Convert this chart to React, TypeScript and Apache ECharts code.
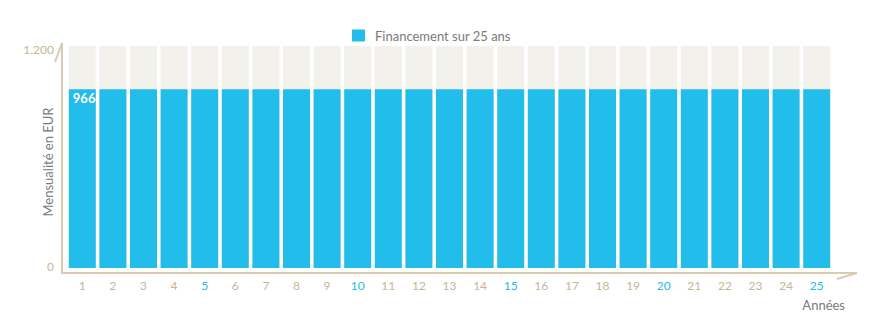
import React, { useEffect, useRef } from "react";
import * as echarts from "echarts";

const years: string[] = Array.from({ length: 25 }, (_, i) => String(i + 1));
const payments: number[] = [966, 966, 966, 966, 966, 966, 966, 966, 966, 966, 966, 966, 966, 966, 966, 966, 966, 966, 966, 966, 966, 966, 966, 966, 966];
const highlightYears: string[] = ["5", "10", "15", "20", "25"];
const seriesName = "Financement sur 25 ans";
const yMax = 1200;

const BLUE = "#22bdea";
const TAN = "#c8b693";
const AXIS = "#d8cbb3";
const GRAY = "#7a7a7a";
const FONT = "Lato, 'Open Sans', sans-serif";

export default function App() {
  const ref = useRef<HTMLDivElement>(null);
  useEffect(() => {
    if (!ref.current) return;
    const chart = echarts.init(ref.current, undefined, { renderer: "svg" });
    chart.setOption({
      animation: false,
      textStyle: { fontFamily: FONT },
      legend: {
        data: [seriesName],
        left: 339,
        top: 16,
        itemWidth: 13,
        itemHeight: 12,
        icon: "rect",
        textStyle: { color: GRAY, fontSize: 13, fontFamily: FONT, padding: [0, 0, 0, 5] },
      },
      grid: { left: 59, right: 37, top: 38, bottom: 67 },
      xAxis: {
        type: "category",
        data: years,
        axisLine: { show: false },
        axisTick: { show: false },
        axisLabel: {
          margin: 11,
          fontSize: 12,
          fontFamily: FONT,
          color: (v: string) => (highlightYears.includes(v) ? BLUE : TAN),
        },
        name: "Années",
        nameLocation: "end",
        nameGap: 13,
        nameMoveOverlap: false,
        nameTextStyle: {
          color: GRAY,
          fontSize: 13,
          fontFamily: FONT,
          align: "right",
          verticalAlign: "top",
          padding: [30, 0, 0, 0],
        },
      },
      yAxis: {
        type: "value",
        min: 0,
        max: yMax,
        interval: yMax,
        splitLine: { show: false },
        axisLine: { show: false },
        axisTick: { show: false },
        axisLabel: {
          margin: 13,
          fontSize: 12,
          fontFamily: FONT,
          color: TAN,
          formatter: (v: number) =>
            v === yMax ? `{top|${v.toLocaleString("de-DE")}}` : `{bot|${v.toLocaleString("de-DE")}}`,
          rich: {
            top: { fontSize: 12, fontFamily: FONT, color: TAN, padding: [7, 0, 0, 0] },
            bot: { fontSize: 12, fontFamily: FONT, color: TAN, padding: [0, 0, 4, 0] },
          },
        },
        name: "Mensualité en EUR",
        nameLocation: "middle",
        nameRotate: 90,
        nameGap: 13,
        nameMoveOverlap: false,
        nameTextStyle: { color: GRAY, fontSize: 13, fontFamily: FONT, padding: [0, 10, 0, 0] },
      },
      series: [
        {
          name: seriesName,
          type: "bar",
          barWidth: 27,
          itemStyle: { color: BLUE },
          showBackground: true,
          backgroundStyle: { color: "#f3f1ec" },
          data: payments.map((v, i) =>
            i === 0
              ? {
                  value: v,
                  label: {
                    show: true,
                    position: [4, 2],
                    color: "#fff",
                    fontWeight: "bold",
                    fontSize: 13,
                    fontFamily: FONT,
                  },
                }
              : v
          ),
        },
      ],
      graphic: [
        {
          type: "polyline",
          silent: true,
          shape: { points: [[47, 54], [54, 35], [54, 265], [849, 265], [829, 271]] },
          style: { stroke: AXIS, lineWidth: 2, fill: null },
        },
      ],
    });
    return () => chart.dispose();
  }, []);
  return <div ref={ref} style={{ width: 861, height: 327 }} />;
}
